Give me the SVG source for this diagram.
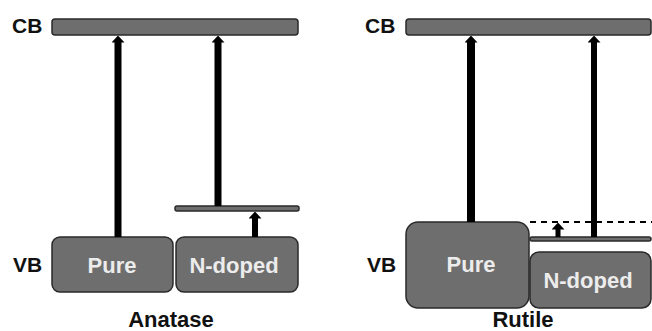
<svg xmlns="http://www.w3.org/2000/svg" width="652" height="331" viewBox="0 0 652 331">
<defs>
<style>
.band{fill:#6e6e6e;stroke:#2a2a2a;stroke-width:1.5}
.lbl{font-family:"Liberation Sans",Arial,sans-serif;font-weight:bold;font-size:21px;fill:#111}
.in{font-family:"Liberation Sans",Arial,sans-serif;font-weight:bold;font-size:22px;fill:#ececec;text-anchor:middle}
.cap{font-family:"Liberation Sans",Arial,sans-serif;font-weight:bold;font-size:22px;fill:#111;text-anchor:middle}
.arr{stroke:#000;fill:none}
</style>
<marker id="ah" viewBox="0 0 7 13" refX="0.5" refY="6.5" markerWidth="7" markerHeight="13" markerUnits="userSpaceOnUse" orient="auto">
<path d="M0,0 L7,6.5 L0,13 Z" fill="#000"/>
</marker>
</defs>
<rect width="652" height="331" fill="#fff"/>
<g id="anatase">
<g id="a-cb"><rect class="band" x="52" y="19" width="246" height="16" rx="3"/><text class="lbl" x="12" y="33">CB</text></g>
<g id="a-vb-label"><text class="lbl" x="13" y="272">VB</text></g>
<g id="a-pure"><rect class="band" x="52" y="237" width="121" height="55" rx="8"/><text class="in" x="112" y="273">Pure</text></g>
<g id="a-ndoped"><rect class="band" x="176" y="237" width="122" height="55" rx="8"/><text class="in" x="234" y="273">N-doped</text></g>
<g id="a-level"><rect class="band" x="175" y="206" width="124" height="5" rx="2"/></g>
<g id="a-caption"><text class="cap" x="171" y="327">Anatase</text></g>
</g>
<g id="rutile">
<g id="r-cb"><rect class="band" x="406" y="19" width="245" height="16" rx="3"/><text class="lbl" x="365" y="33">CB</text></g>
<g id="r-vb-label"><text class="lbl" x="367" y="272">VB</text></g>
<g id="r-pure"><rect class="band" x="406" y="222" width="123" height="86" rx="12"/><text class="in" x="471" y="272">Pure</text></g>
<g id="r-ndoped"><rect class="band" x="530" y="252" width="121" height="56" rx="9"/><text class="in" x="588" y="288">N-doped</text></g>
<g id="r-level"><rect class="band" x="530" y="237" width="121" height="4" rx="2"/></g>
<g id="r-dashed"><line x1="530" y1="222" x2="652" y2="222" stroke="#000" stroke-width="2" stroke-dasharray="6,5"/></g>
<g id="r-caption"><text class="cap" x="523" y="327">Rutile</text></g>
</g>
<g id="connectors">
<line class="arr" x1="118" y1="237" x2="118" y2="42" stroke-width="7" marker-end="url(#ah)"/>
<line class="arr" x1="218" y1="206" x2="218" y2="42" stroke-width="7" marker-end="url(#ah)"/>
<line class="arr" x1="255" y1="237" x2="255" y2="218" stroke-width="6" marker-end="url(#ah)"/>
<line class="arr" x1="471" y1="222" x2="471" y2="42" stroke-width="8" marker-end="url(#ah)"/>
<line class="arr" x1="594" y1="237" x2="594" y2="42" stroke-width="6" marker-end="url(#ah)"/>
<line class="arr" x1="558" y1="237" x2="558" y2="229" stroke-width="5" marker-end="url(#ah)"/>
</g>
</svg>
